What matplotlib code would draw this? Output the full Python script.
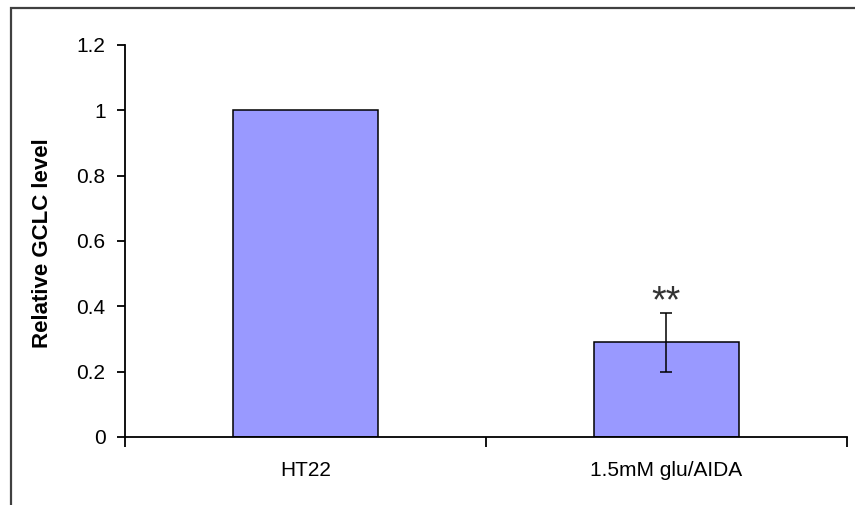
import matplotlib.pyplot as plt
from matplotlib.patches import Rectangle

plt.rcParams['font.family'] = ['Liberation Sans', 'DejaVu Sans']

groups = ["HT22", "1.5mM glu/AIDA"]
gclc = [1.0, 0.29]
gclc_err = [0.0, 0.09]
yticks = [0, 0.2, 0.4, 0.6, 0.8, 1.0, 1.2]
ytick_labels = ["0", "0.2", "0.4", "0.6", "0.8", "1", "1.2"]
marks = ["", "**"]

fig = plt.figure(figsize=(8.55, 5.05), dpi=100)
ax = fig.add_axes([0.1462, 0.1347, 0.8444, 0.7762])

# chart area frame (only left and top edges fall inside the image)
fig.patches.append(Rectangle((11 / 855, -0.2), 1.2, 1.2 - 7.5 / 505,
                             transform=fig.transFigure, fill=False,
                             edgecolor="#404040", linewidth=1.6))

x = list(range(len(groups)))
ax.bar(x, gclc, width=0.4, color="#9999ff", edgecolor="black", linewidth=1.1, zorder=2)
for xi, v, e in zip(x, gclc, gclc_err):
    if e > 0:
        ax.errorbar(xi, v, yerr=e, fmt="none", ecolor="black", elinewidth=1.1,
                    capsize=4, capthick=1.1, zorder=3)

# significance stars above the error bar
for xi, v, e, m in zip(x, gclc, gclc_err, marks):
    if m:
        ax.text(xi, v + e + 0.002, m, ha="center", va="baseline", fontsize=27,
                color="#333333")

ax.set_xlim(-0.5, 1.5)
ax.set_ylim(0, 1.2)
ax.set_yticks(yticks)
ax.set_yticklabels(ytick_labels)

# category boundary ticks, labels centred under the bars
ax.set_xticks([-0.5, 0.5, 1.5])
ax.set_xticklabels(["", "", ""])
ax.set_xticks(x, minor=True)
ax.set_xticklabels(groups, minor=True)
ax.tick_params(axis="x", which="major", direction="out", length=7, width=1.3)
ax.tick_params(axis="x", which="minor", length=0, pad=17, labelsize=15)
ax.tick_params(axis="y", direction="out", length=6, width=1.3, labelsize=15, pad=8)

for s in ["top", "right"]:
    ax.spines[s].set_visible(False)
for s in ["left", "bottom"]:
    ax.spines[s].set_linewidth(1.3)

ax.set_ylabel("Relative GCLC level", fontsize=16, fontweight="bold")
ax.yaxis.set_label_coords(-0.1, 0.495)

fig.savefig("out.png", dpi=100)
